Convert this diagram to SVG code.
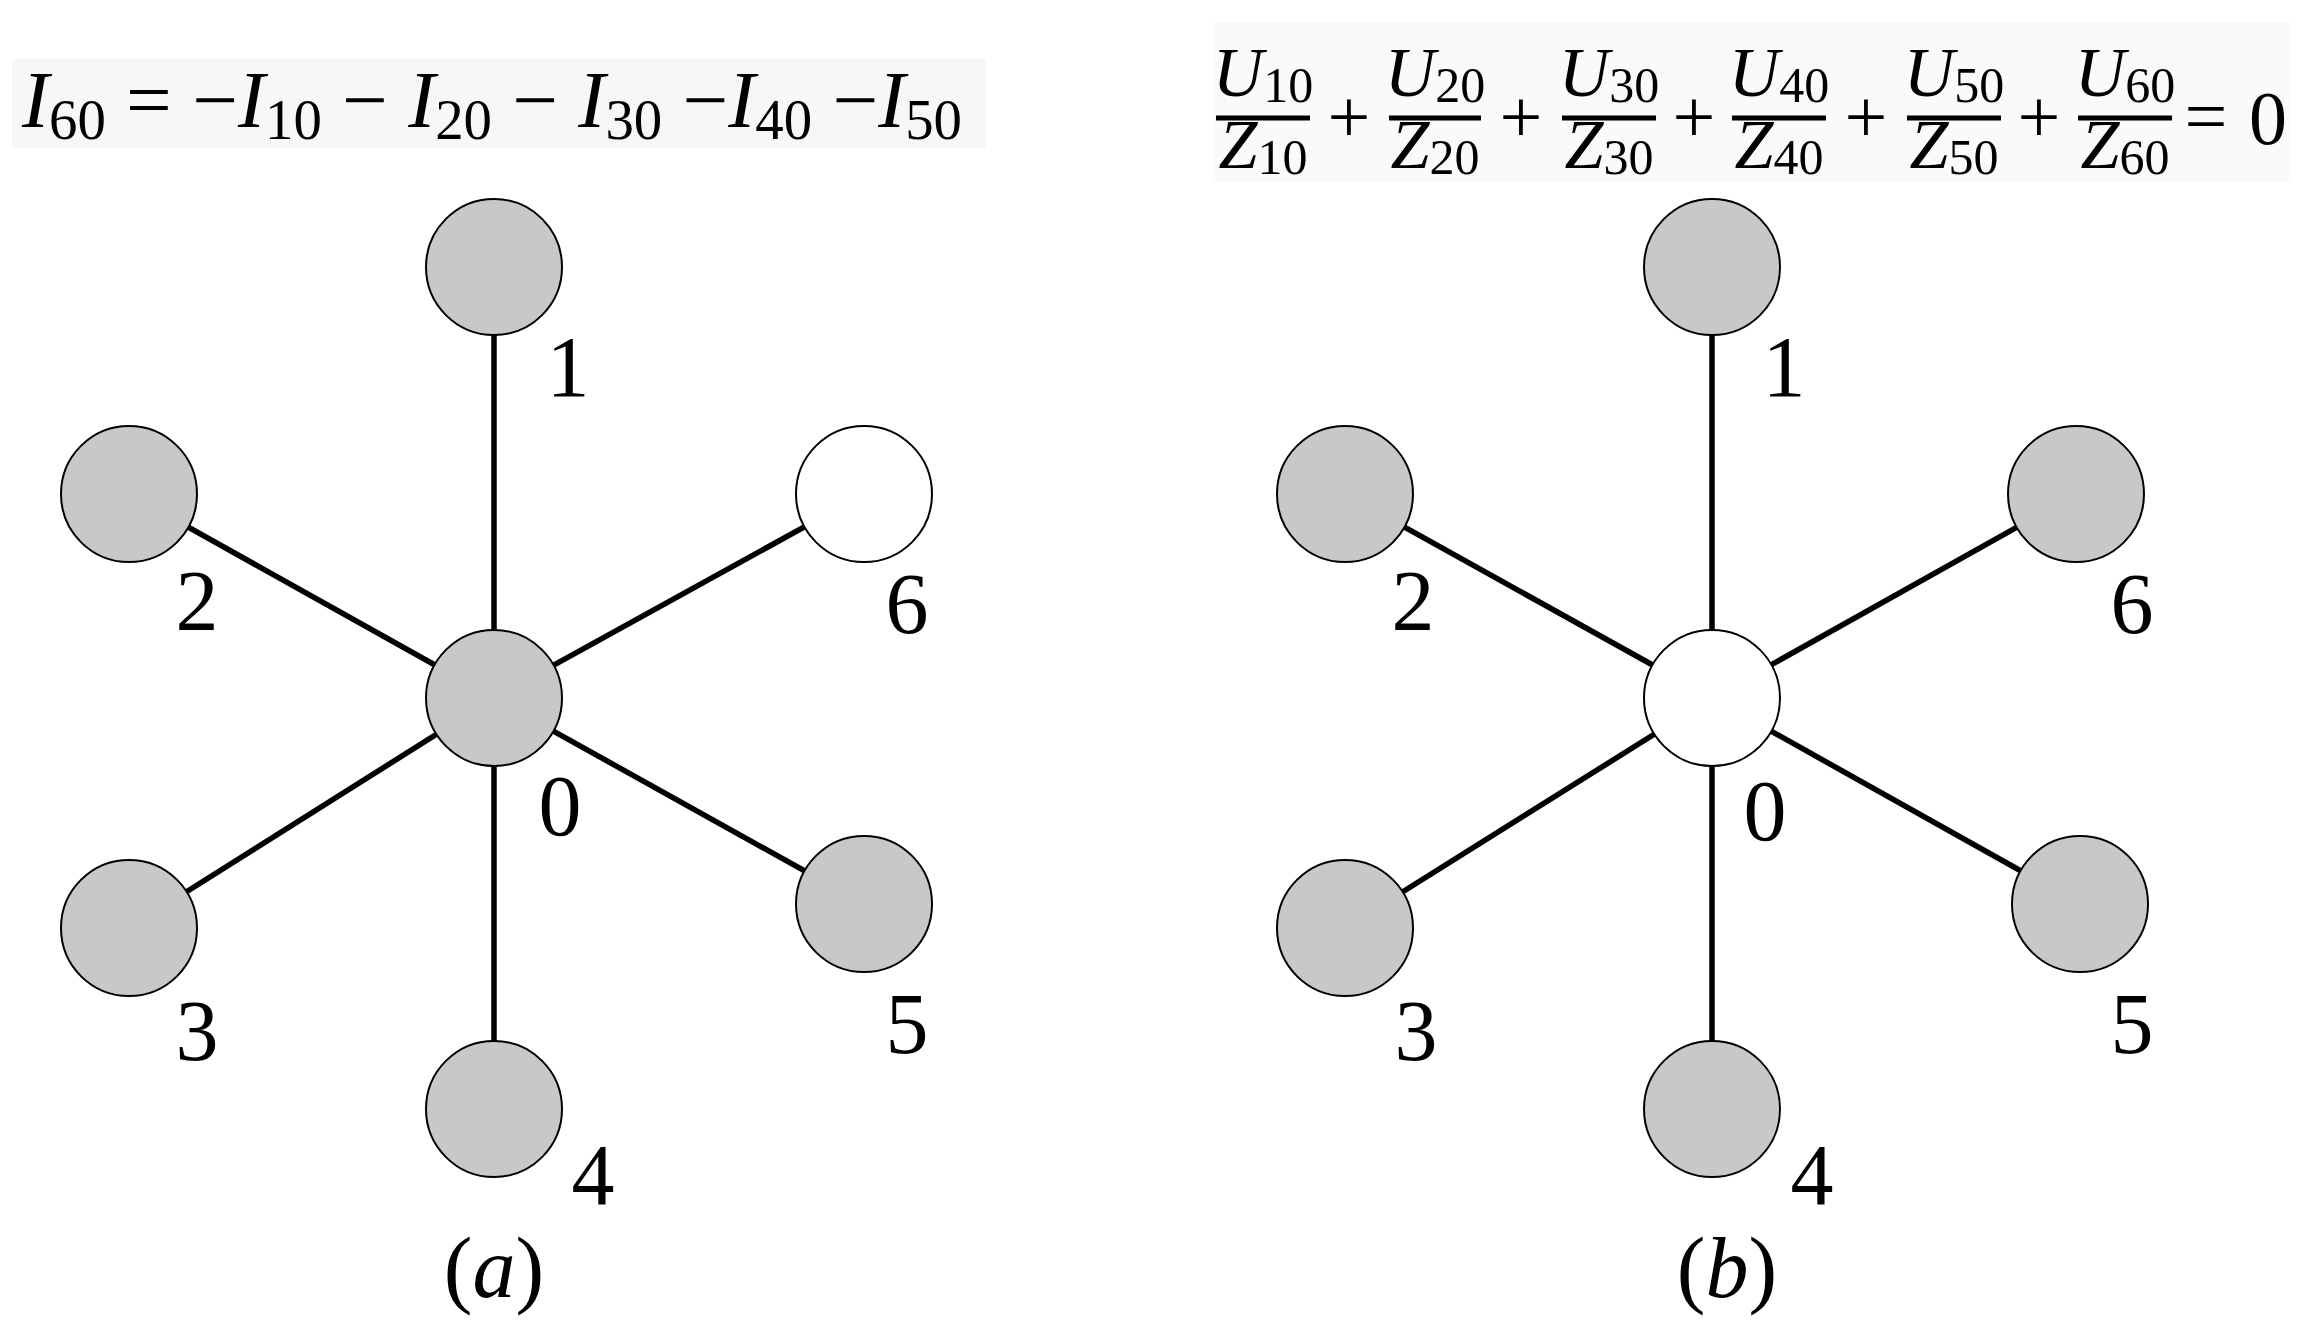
<svg xmlns="http://www.w3.org/2000/svg" width="2310" height="1331" viewBox="0 0 2310 1331">
<style>
.g{fill:#c8c8c8;stroke:#000;stroke-width:2}
.w{fill:#fff;stroke:#000;stroke-width:2}
.e{stroke:#000;stroke-width:5.5}
.lb{font-family:"Liberation Serif",serif;font-size:86px;fill:#000;text-anchor:middle}
.m{font-family:"Liberation Serif",serif;font-size:80px;fill:#000}
.mi{font-style:italic}
.s{font-size:56px}
.fr{font-family:"Liberation Serif",serif;font-size:70px;fill:#000;text-anchor:middle}
.fs{font-size:50px}
.op{font-family:"Liberation Serif",serif;font-size:76px;fill:#000;text-anchor:middle}
</style>
<rect x="12" y="59" width="974" height="89" fill="#f7f7f7"/>
<rect x="1213" y="22" width="1078" height="160" fill="#fafafa"/>
<g id="formula-a">
<text class="m" x="22" y="127" textLength="940" lengthAdjust="spacingAndGlyphs"><tspan class="mi">I</tspan><tspan class="s" dy="12">60</tspan><tspan dy="-12"> = −</tspan><tspan class="mi">I</tspan><tspan class="s" dy="12">10</tspan><tspan dy="-12"> − </tspan><tspan class="mi">I</tspan><tspan class="s" dy="12">20</tspan><tspan dy="-12"> − </tspan><tspan class="mi">I</tspan><tspan class="s" dy="12">30</tspan><tspan dy="-12"> −</tspan><tspan class="mi">I</tspan><tspan class="s" dy="12">40</tspan><tspan dy="-12"> −</tspan><tspan class="mi">I</tspan><tspan class="s" dy="12">50</tspan></text>
</g>
<g id="formula-b">
<g stroke="#000" stroke-width="5">
<line x1="1216" y1="118" x2="1310" y2="118"/><line x1="1389" y1="118" x2="1481" y2="118"/><line x1="1562" y1="118" x2="1656" y2="118"/><line x1="1732" y1="118" x2="1826" y2="118"/><line x1="1907" y1="118" x2="2001" y2="118"/><line x1="2078" y1="118" x2="2172" y2="118"/>
</g>
<text class="fr" x="1263" y="96"><tspan class="mi">U</tspan><tspan class="fs" dy="6">10</tspan></text>
<text class="fr" x="1263" y="168"><tspan class="mi">Z</tspan><tspan class="fs" dy="6">10</tspan></text>
<text class="fr" x="1435" y="96"><tspan class="mi">U</tspan><tspan class="fs" dy="6">20</tspan></text>
<text class="fr" x="1435" y="168"><tspan class="mi">Z</tspan><tspan class="fs" dy="6">20</tspan></text>
<text class="fr" x="1609" y="96"><tspan class="mi">U</tspan><tspan class="fs" dy="6">30</tspan></text>
<text class="fr" x="1609" y="168"><tspan class="mi">Z</tspan><tspan class="fs" dy="6">30</tspan></text>
<text class="fr" x="1779" y="96"><tspan class="mi">U</tspan><tspan class="fs" dy="6">40</tspan></text>
<text class="fr" x="1779" y="168"><tspan class="mi">Z</tspan><tspan class="fs" dy="6">40</tspan></text>
<text class="fr" x="1954" y="96"><tspan class="mi">U</tspan><tspan class="fs" dy="6">50</tspan></text>
<text class="fr" x="1954" y="168"><tspan class="mi">Z</tspan><tspan class="fs" dy="6">50</tspan></text>
<text class="fr" x="2125" y="96"><tspan class="mi">U</tspan><tspan class="fs" dy="6">60</tspan></text>
<text class="fr" x="2125" y="168"><tspan class="mi">Z</tspan><tspan class="fs" dy="6">60</tspan></text>
<text class="op" x="1349" y="142">+</text><text class="op" x="1521" y="142">+</text><text class="op" x="1694" y="142">+</text><text class="op" x="1866" y="142">+</text><text class="op" x="2039" y="142">+</text>
<text class="op" x="2206" y="142">=</text><text class="op" x="2268" y="144">0</text>
</g>
<g id="connectors">
<line class="e" x1="494" y1="698" x2="494" y2="267"/><line class="e" x1="494" y1="698" x2="129" y2="494"/><line class="e" x1="494" y1="698" x2="864" y2="494"/><line class="e" x1="494" y1="698" x2="129" y2="928"/><line class="e" x1="494" y1="698" x2="864" y2="904"/><line class="e" x1="494" y1="698" x2="494" y2="1109"/>
<line class="e" x1="1712" y1="698" x2="1712" y2="267"/><line class="e" x1="1712" y1="698" x2="1345" y2="494"/><line class="e" x1="1712" y1="698" x2="2076" y2="494"/><line class="e" x1="1712" y1="698" x2="1345" y2="928"/><line class="e" x1="1712" y1="698" x2="2080" y2="904"/><line class="e" x1="1712" y1="698" x2="1712" y2="1109"/>
</g>
<g id="a0"><circle class="g" cx="494" cy="698" r="68"/><text class="lb" x="560" y="835">0</text></g>
<g id="a1"><circle class="g" cx="494" cy="267" r="68"/><text class="lb" x="568" y="396">1</text></g>
<g id="a2"><circle class="g" cx="129" cy="494" r="68"/><text class="lb" x="197" y="630">2</text></g>
<g id="a6"><circle class="w" cx="864" cy="494" r="68"/><text class="lb" x="907" y="633">6</text></g>
<g id="a3"><circle class="g" cx="129" cy="928" r="68"/><text class="lb" x="197" y="1060">3</text></g>
<g id="a5"><circle class="g" cx="864" cy="904" r="68"/><text class="lb" x="907" y="1053">5</text></g>
<g id="a4"><circle class="g" cx="494" cy="1109" r="68"/><text class="lb" x="593" y="1204">4</text></g>
<text class="lb" x="494" y="1297">(<tspan class="mi">a</tspan>)</text>
<g id="b0"><circle class="w" cx="1712" cy="698" r="68"/><text class="lb" x="1765" y="840">0</text></g>
<g id="b1"><circle class="g" cx="1712" cy="267" r="68"/><text class="lb" x="1784" y="396">1</text></g>
<g id="b2"><circle class="g" cx="1345" cy="494" r="68"/><text class="lb" x="1413" y="630">2</text></g>
<g id="b6"><circle class="g" cx="2076" cy="494" r="68"/><text class="lb" x="2132" y="633">6</text></g>
<g id="b3"><circle class="g" cx="1345" cy="928" r="68"/><text class="lb" x="1416" y="1060">3</text></g>
<g id="b5"><circle class="g" cx="2080" cy="904" r="68"/><text class="lb" x="2132" y="1053">5</text></g>
<g id="b4"><circle class="g" cx="1712" cy="1109" r="68"/><text class="lb" x="1812" y="1204">4</text></g>
<text class="lb" x="1727" y="1297">(<tspan class="mi">b</tspan>)</text>
</svg>
